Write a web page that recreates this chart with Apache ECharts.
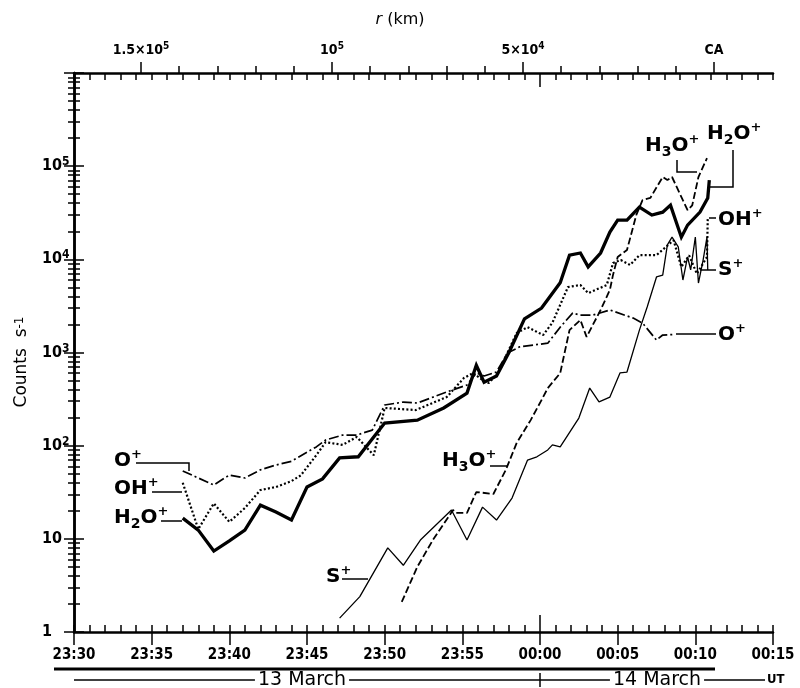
<!DOCTYPE html>
<html>
<head>
<meta charset="utf-8">
<script src="https://cdn.jsdelivr.net/npm/echarts@6.0.0/dist/echarts.min.js"></script>
<style>
html,body{margin:0;padding:0;background:#fff;}
#chart{width:800px;height:688px;}
</style>
</head>
<body>
<div id="chart"></div>
<script>
// ---------------- data (x = minutes after 23:30 UT, 13 March) ----------------
const timeLabels = ['23:30','23:35','23:40','23:45','23:50','23:55','00:00','00:05','00:10','00:15'];
const rTickValues = [0,10000,20000,30000,40000,50000,60000,70000,80000,90000,100000,110000,120000,130000,140000,150000];
const rLabelValues = [150000,100000,50000,0];
const rLabelText = {150000:'{b|1.5×10}{s|5}', 100000:'{b|10}{s|5}', 50000:'{b|5×10}{s|4}', 0:'{b|CA}'};
const dateLabels = ['13 March','14 March','UT'];

const h2oPlus = [[7.0,16.7],[8.0,12.4],[9.0,7.4],[10.0,9.5],[11.0,12.4],[12.0,23],[13.0,19.4],[14.0,15.9],[15.0,36],[16.0,44],[17.1,74],[18.3,76],[20.0,175],[22.1,188],[23.8,254],[25.3,367],[25.9,730],[26.4,480],[27.2,560],[28.0,1000],[29.0,2300],[30.1,3000],[31.3,5600],[31.9,11100],[32.6,11700],[33.1,8300],[33.9,11700],[34.5,19600],[35.0,26400],[35.6,26400],[36.4,36400],[37.2,29900],[37.9,32100],[38.4,38200],[39.1,17300],[39.5,23300],[40.3,32200],[40.8,45600],[40.9,71000]];
const ohPlus = [[7.0,40],[8.0,12.7],[9.0,24],[10.0,15.2],[11.0,21.4],[12.0,33.4],[13.0,36],[14.0,41.7],[14.6,48],[15.6,79],[16.2,109],[17.3,102],[18.2,124],[19.3,79],[20.0,254],[22.0,241],[24.0,333],[25.1,532],[25.7,603],[26.3,507],[26.7,470],[27.3,603],[28.5,1620],[29.2,1870],[30.2,1540],[30.8,2090],[31.8,5040],[32.6,5300],[33.1,4340],[34.3,5300],[34.7,9120],[35.2,9830],[35.8,8700],[36.4,11100],[37.5,11100],[38.4,15000],[38.6,16000],[39.1,8300],[39.6,11000],[40.1,7000],[40.75,10600],[40.8,27700]];
const oPlus = [[7.0,53.5],[9.0,37.8],[10.0,48.4],[11.0,45],[12.0,55],[13.0,62],[14.0,68],[14.5,76],[15.6,97],[16.2,115],[17.3,130],[18.2,130],[19.2,147],[20.0,273],[21.2,294],[22.1,287],[24.0,377],[25.3,448],[25.9,603],[26.4,560],[27.2,617],[27.9,990],[28.7,1150],[30.5,1260],[31.3,1870],[32.1,2650],[32.6,2520],[33.4,2520],[34.5,2860],[36.0,2340],[36.6,2070],[37.5,1360],[37.9,1540],[38.6,1560]];
const h3oPlus = [[21.1,2.1],[22.1,5.0],[23.1,9.7],[24.4,20.4],[24.6,19],[25.3,19],[25.9,31.8],[27.0,30.3],[27.8,55],[28.5,107],[29.4,188],[30.2,332],[30.5,415],[31.3,600],[31.9,1740],[32.6,2230],[33.0,1470],[33.9,2860],[34.5,4700],[34.7,6800],[35.0,10600],[35.6,12600],[36.2,29900],[36.6,43300],[37.1,45600],[37.9,76500],[38.2,71000],[38.5,76500],[39.5,33700],[39.8,38000],[40.2,76500],[40.75,122000]];
const sPlus = [[17.1,1.41],[18.4,2.4],[20.2,8.0],[21.2,5.2],[22.3,9.7],[24.3,20.4],[25.3,9.7],[26.3,21.9],[27.2,15.9],[28.2,27.4],[29.2,70],[29.8,76],[30.5,90],[30.8,102],[31.3,97],[32.5,198],[33.2,415],[33.8,295],[34.5,332],[35.15,603],[35.6,617],[36.4,1740],[36.9,3080],[37.5,6470],[37.9,6770],[38.2,14300],[38.5,17300],[38.9,13600],[39.2,6000],[39.5,10600],[39.7,7700],[40.0,17300],[40.2,5570],[40.5,9830],[40.75,17300],[40.8,7700]];

// ---------------- chart ----------------
const F = "'DejaVu Sans', 'Liberation Sans', sans-serif";
const FC = "'DejaVu Sans Condensed', 'DejaVu Sans', sans-serif";
const BLACK = '#000';
const chart = echarts.init(document.getElementById('chart'), null, {renderer:'canvas'});

const minorLog = [];
for (let k = 0; k < 6; k++) for (let d = 2; d <= 9; d++) minorLog.push(k + Math.log10(d));

const none = {show:false};
function timeAxis(extra) {
  return Object.assign({type:'value', min:0, max:45, splitLine:none, axisLabel:none,
    axisLine:{show:false}}, extra);
}
const rMin = -15445, rMax = 167539;

const ionRich = {
  n:{fontSize:20, fontWeight:'bold', fontFamily:F, color:BLACK, lineHeight:26},
  p:{fontSize:13, fontWeight:'bold', fontFamily:F, color:BLACK, verticalAlign:'top', lineHeight:10},
  d:{fontSize:14, fontWeight:'bold', fontFamily:F, color:BLACK, verticalAlign:'bottom', lineHeight:10}
};
function ion(txt, x, y) {
  return {type:'text', x:x, y:y, z:50, style:{text:txt, rich:ionRich, align:'left', verticalAlign:'middle', fill:BLACK}};
}
function pline(points, w) {
  return {type:'polyline', z:50, shape:{points:points}, style:{stroke:BLACK, lineWidth:w || 1.5, fill:null}};
}

const option = {
  animation:false,
  backgroundColor:'#fff',
  grid:{left:74, right:27, top:73, bottom:56, containLabel:false, outerBoundsMode:'none'},
  xAxis:[
    timeAxis({position:'bottom', interval:5,
      axisLine:{show:true, lineStyle:{color:BLACK, width:2.5}},
      axisTick:{show:true, inside:false, length:13, lineStyle:{color:BLACK, width:1.5}},
      axisLabel:{show:true, margin:16, color:BLACK, fontFamily:FC, fontWeight:'bold', fontSize:15,
        showMinLabel:true, showMaxLabel:true, formatter:v => timeLabels[Math.round(v/5)]}}),
    timeAxis({position:'bottom', interval:1,
      axisTick:{show:true, inside:true, length:7, lineStyle:{color:BLACK, width:1.5}}}),
    timeAxis({position:'bottom',
      axisTick:{show:true, inside:true, length:17, customValues:[30], lineStyle:{color:BLACK, width:1.5}}}),
    timeAxis({position:'top', interval:1,
      axisLine:{show:true, lineStyle:{color:BLACK, width:2.5}},
      axisTick:{show:true, inside:true, length:7, lineStyle:{color:BLACK, width:1.5}}}),
    timeAxis({position:'top',
      axisTick:{show:true, inside:true, length:14, customValues:[30], lineStyle:{color:BLACK, width:1.5}}}),
    {type:'value', position:'top', min:rMin, max:rMax, inverse:true, splitLine:none, axisLine:{show:false},
      axisTick:{show:true, inside:false, length:7, customValues:rTickValues, lineStyle:{color:BLACK, width:1.5}},
      axisLabel:none},
    {type:'value', position:'top', min:rMin, max:rMax, inverse:true, splitLine:none, axisLine:{show:false},
      axisTick:{show:true, inside:false, length:11, customValues:rLabelValues, lineStyle:{color:BLACK, width:1.5}},
      axisLabel:{show:true, margin:14, customValues:rLabelValues, formatter:v => rLabelText[v] || '',
        rich:{b:{fontSize:14, fontWeight:'bold', fontFamily:FC, color:BLACK, lineHeight:18},
              s:{fontSize:10, fontWeight:'bold', fontFamily:FC, color:BLACK, verticalAlign:'top', lineHeight:10}}}}
  ],
  yAxis:[
    {type:'log', logBase:10, position:'left', min:1, max:1000000, splitNumber:6, splitLine:none,
      axisLine:{show:true, lineStyle:{color:BLACK, width:2.5}},
      axisTick:{show:true, inside:true, length:10, lineStyle:{color:BLACK, width:1.5}},
      axisLabel:{show:true, inside:false, margin:32, align:'left', showMinLabel:true, showMaxLabel:true,
        formatter:v => { const e = Math.round(Math.log10(v)); if (e===0) return '{b|1}'; if (e===1) return '{b|10}'; if (e>=6) return ''; return '{b|10}{s|'+e+'}'; },
        rich:{b:{fontSize:16, fontWeight:'bold', fontFamily:FC, color:BLACK, lineHeight:20},
              s:{fontSize:12, fontWeight:'bold', fontFamily:FC, color:BLACK, verticalAlign:'top', lineHeight:11}}}},
    {type:'value', position:'left', min:0, max:6, splitLine:none, axisLine:{show:false}, axisLabel:none,
      axisTick:{show:true, inside:true, length:6, customValues:minorLog, lineStyle:{color:BLACK, width:1.5}}},
    {type:'log', logBase:10, position:'right', min:1, max:1000000, splitNumber:6, splitLine:none, axisLabel:none,
      axisLine:{show:true, lineStyle:{color:BLACK, width:2.5}},
      axisTick:{show:true, inside:true, length:10, lineStyle:{color:BLACK, width:1.5}}},
    {type:'value', position:'right', min:0, max:6, splitLine:none, axisLine:{show:false}, axisLabel:none,
      axisTick:{show:true, inside:true, length:6, customValues:minorLog, lineStyle:{color:BLACK, width:1.5}}}
  ],
  series:[
    {name:'H2O+', type:'line', data:h2oPlus, showSymbol:false, symbol:'none', xAxisIndex:0, yAxisIndex:0,
      lineStyle:{color:BLACK, width:3.3, type:'solid', join:'miter'}},
    {name:'OH+', type:'line', data:ohPlus, showSymbol:false, symbol:'none', xAxisIndex:0, yAxisIndex:0,
      lineStyle:{color:BLACK, width:2.2, type:[2,2.2]}},
    {name:'O+', type:'line', data:oPlus, showSymbol:false, symbol:'none', xAxisIndex:0, yAxisIndex:0,
      lineStyle:{color:BLACK, width:1.7, type:[10,3,2,3]}},
    {name:'H3O+', type:'line', data:h3oPlus, showSymbol:false, symbol:'none', xAxisIndex:0, yAxisIndex:0,
      lineStyle:{color:BLACK, width:1.8, type:[7,3]}},
    {name:'S+', type:'line', data:sPlus, showSymbol:false, symbol:'none', xAxisIndex:0, yAxisIndex:0,
      lineStyle:{color:BLACK, width:1.3, type:'solid'}}
  ]
};
chart.setOption(option);

// ---------------- annotations ----------------
const ctx = document.createElement('canvas').getContext('2d');
function tw(text, font) { ctx.font = font; return ctx.measureText(text).width; }
const x0 = chart.convertToPixel({xAxisIndex:0}, 0);
const x00 = chart.convertToPixel({xAxisIndex:0}, 30);
const dateFont = '19px ' + F;
const yD = 680;
const c13 = 302, c14 = 657;
const w13 = tw(dateLabels[0], dateFont), w14 = tw(dateLabels[1], dateFont);

const graphics = [
  // titles
  {type:'text', x:400, y:20, style:{text:'{i|r} (km)', rich:{i:{fontStyle:'italic', fontSize:16, fontFamily:F, color:BLACK}}, fontSize:16, fontFamily:F, fill:BLACK, align:'center', verticalAlign:'middle'}},
  {type:'text', x:22, y:362, rotation:Math.PI/2, style:{text:'Counts  s{s|-1}', fontSize:17, fontFamily:F, fill:BLACK, align:'center', verticalAlign:'middle',
    rich:{s:{fontSize:12, fontFamily:F, color:BLACK, verticalAlign:'top', lineHeight:10}}}},
  // date row
  pline([[54,669],[715,669]], 3),
  pline([[x0,yD],[c13 - w13/2 - 3, yD]], 1.5),
  {type:'text', x:c13, y:yD, style:{text:dateLabels[0], font:dateFont, fill:BLACK, align:'center', verticalAlign:'middle'}},
  pline([[c13 + w13/2 + 3, yD],[c14 - w14/2 - 3, yD]], 1.5),
  pline([[x00, yD-7],[x00, yD+7]], 1.5),
  {type:'text', x:c14, y:yD, style:{text:dateLabels[1], font:dateFont, fill:BLACK, align:'center', verticalAlign:'middle'}},
  pline([[c14 + w14/2 + 3, yD],[765, yD]], 1.5),
  {type:'text', x:767, y:yD, style:{text:dateLabels[2], font:'bold 13px ' + FC, fill:BLACK, align:'left', verticalAlign:'middle'}},
  // ion labels, left group
  ion('{n|O}{p|+}', 114, 461), pline([[136,463],[189,463],[189,471]]),
  ion('{n|OH}{p|+}', 114, 489), pline([[152,492],[182,492]]),
  ion('{n|H}{d|2}{n|O}{p|+}', 114, 518), pline([[161,521],[182,521]]),
  // middle
  ion('{n|H}{d|3}{n|O}{p|+}', 442, 461), pline([[490,466],[508,466]]),
  ion('{n|S}{p|+}', 326, 577), pline([[342,579],[368,579]]),
  // top right
  ion('{n|H}{d|3}{n|O}{p|+}', 645, 146), pline([[677,160],[677,172],[697,172]]),
  ion('{n|H}{d|2}{n|O}{p|+}', 707, 134), pline([[733,150],[733,187],[710,187]]),
  pline([[709,218],[716,218]]), ion('{n|OH}{p|+}', 718, 220),
  pline([[700,270],[716,270]]), ion('{n|S}{p|+}', 718, 270),
  pline([[676,334],[716,334]]), ion('{n|O}{p|+}', 718, 335)
];
chart.setOption({graphic:graphics});
</script>
</body>
</html>
